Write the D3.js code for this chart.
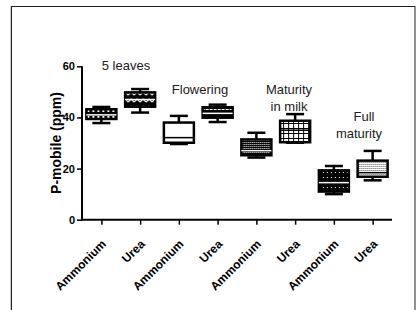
<!DOCTYPE html>
<html>
<head>
<meta charset="utf-8">
<script src="https://cdn.jsdelivr.net/npm/d3@7"></script>
<style>
  body { margin: 0; background: #fff; }
  svg { display: block; font-family: "Liberation Sans", Arial, sans-serif; }
</style>
</head>
<body>
<script>
// categories (fertilizer per growth stage)
var categories = ["Ammonium", "Urea", "Ammonium", "Urea", "Ammonium", "Urea", "Ammonium", "Urea"];
// box statistics (ppm)
var whiskerMin = [37.8, 41.9, 29.6, 38.2, 24.3, 30.1, 10.0, 15.4];
var quart1 = [39.4, 44.2, 30.1, 39.9, 25.2, 30.3, 11.0, 16.8];
var medians = [41.0, 47.0, 32.1, 41.6, 27.0, 35.0, 14.5, 18.4];
var quart3 = [43.2, 49.8, 38.0, 44.0, 31.4, 38.7, 19.3, 23.1];
var whiskerMax = [44.1, 51.1, 40.6, 45.0, 34.0, 41.3, 21.0, 26.9];
var fills = ["p1", "p2", "white", "p4", "p5", "p6", "p7", "p8"];
var yTicks = [0, 20, 40, 60];
// stage annotations
var stageLines = [["5 leaves"], ["Flowering"], ["Maturity", "in milk"], ["Full", "maturity"]];

var W = 417, H = 310;
var svg = d3.select("body").append("svg").attr("width", W).attr("height", H);

// frame
svg.append("line").attr("x1", 10.5).attr("x2", 10.5).attr("y1", 6).attr("y2", 310)
    .attr("stroke", "#ccc").attr("stroke-width", 1);
svg.append("rect").attr("x", 11.5).attr("y", 6.5).attr("width", 403.5).attr("height", 320)
    .attr("fill", "none").attr("stroke", "#222").attr("stroke-width", 1);

// patterns
var defs = svg.append("defs");
function pat(id, w, h, bg, draw) {
    var p = defs.append("pattern").attr("id", id).attr("patternUnits", "userSpaceOnUse")
        .attr("width", w).attr("height", h);
    p.append("rect").attr("width", w).attr("height", h).attr("fill", bg);
    draw(p);
}
pat("p1", 5, 6, "#000", function (p) {
    p.append("rect").attr("x", 1).attr("y", 2).attr("width", 2).attr("height", 2).attr("fill", "#fff");
});
pat("p2", 6, 7, "#000", function (p) {
    p.append("path").attr("d", "M0,4 L3,1 L6,4").attr("fill", "none").attr("stroke", "#fff").attr("stroke-width", 1.2);
});
pat("p4", 4, 4, "#000", function (p) {
    p.append("rect").attr("x", 0).attr("y", 1).attr("width", 3).attr("height", 1).attr("fill", "#fff");
});
pat("p5", 2, 2, "#000", function (p) {
    p.append("rect").attr("x", 0).attr("y", 0).attr("width", 1).attr("height", 1).attr("fill", "#fff");
});
pat("p6", 5, 5, "#fff", function (p) {
    p.append("rect").attr("x", 0).attr("y", 3).attr("width", 5).attr("height", 1).attr("fill", "#000");
    p.append("rect").attr("x", 3).attr("y", 0).attr("width", 1).attr("height", 5).attr("fill", "#000");
});
pat("p7", 4, 5, "#000", function (p) {
    p.append("rect").attr("x", 1).attr("y", 2).attr("width", 1).attr("height", 1).attr("fill", "#fff");
});
pat("p8", 2, 2, "#fff", function (p) {
    p.append("rect").attr("x", 0).attr("y", 0).attr("width", 1).attr("height", 1).attr("fill", "#555");
});

var x = d3.scalePoint().domain(d3.range(categories.length)).range([82, 392]).padding(0.5);
var y = d3.scaleLinear().domain([0, 60]).range([219.7, 66.3]);

// axes
var yAxis = svg.append("g").attr("transform", "translate(82,0)")
    .call(d3.axisLeft(y).tickValues(yTicks).tickSize(5).tickPadding(2));
yAxis.select(".domain").attr("stroke-width", 2).attr("d", "M0," + y(60) + "V" + (y(0) + 1));
yAxis.selectAll(".tick line").attr("stroke-width", 1.5);
yAxis.selectAll("text").attr("font-size", 11).attr("font-weight", "bold").attr("fill", "#000")
    .attr("font-family", "Liberation Sans, Arial, sans-serif");

var xAxis = svg.append("g").attr("transform", "translate(0," + y(0) + ")")
    .call(d3.axisBottom(x).tickSize(5).tickFormat(function (i) { return categories[i]; }));
xAxis.select(".domain").attr("stroke-width", 2).attr("d", "M81,0H392");
xAxis.selectAll(".tick line").attr("stroke-width", 1.5);
xAxis.selectAll("text")
    .attr("font-size", 12).attr("font-weight", "bold").attr("fill", "#000")
    .attr("font-family", "Liberation Sans, Arial, sans-serif")
    .attr("text-anchor", "end").attr("dy", null).attr("y", 0)
    .attr("transform", "translate(5,25) rotate(-45)");

// y label
svg.append("text").attr("transform", "translate(61," + y(30) + ") rotate(-90)")
    .attr("text-anchor", "middle").attr("font-size", 14).attr("font-weight", "bold")
    .text("P-mobile (ppm)");

// boxes
var boxW = 30, capW = 18;
var boxes = svg.append("g").selectAll("g").data(categories).join("g")
    .attr("transform", function (d, i) { return "translate(" + x(i) + ",0)"; });
boxes.append("line").attr("y1", function (d, i) { return y(whiskerMax[i]); })
    .attr("y2", function (d, i) { return y(whiskerMin[i]); })
    .attr("stroke", "#000").attr("stroke-width", 2.5);
boxes.append("line").attr("x1", -capW / 2).attr("x2", capW / 2)
    .attr("y1", function (d, i) { return y(whiskerMax[i]); })
    .attr("y2", function (d, i) { return y(whiskerMax[i]); })
    .attr("stroke", "#000").attr("stroke-width", 2.5);
boxes.append("line").attr("x1", -capW / 2).attr("x2", capW / 2)
    .attr("y1", function (d, i) { return y(whiskerMin[i]); })
    .attr("y2", function (d, i) { return y(whiskerMin[i]); })
    .attr("stroke", "#000").attr("stroke-width", 2.5);
boxes.append("rect").attr("x", -boxW / 2).attr("width", boxW)
    .attr("y", function (d, i) { return y(quart3[i]); })
    .attr("height", function (d, i) { return y(quart1[i]) - y(quart3[i]); })
    .attr("fill", function (d, i) { return fills[i] === "white" ? "#fff" : "url(#" + fills[i] + ")"; })
    .attr("stroke", "#000").attr("stroke-width", 2.5);
boxes.append("line").attr("x1", -boxW / 2).attr("x2", boxW / 2)
    .attr("y1", function (d, i) { return y(medians[i]); })
    .attr("y2", function (d, i) { return y(medians[i]); })
    .attr("stroke", function (d, i) { return fills[i] === "white" || fills[i] === "p6" || fills[i] === "p8" ? "#000" : "#fff"; })
    .attr("stroke-width", 1.5);

// stage annotations
var stageX = [126, 200, 289, 364];
var stageY = [70, 94, 94, 121];
stageLines.forEach(function (lines, k) {
    var t = svg.append("text").attr("font-size", 13).attr("text-anchor", "middle").attr("fill", "#222");
    lines.forEach(function (s, j) {
        t.append("tspan").attr("x", stageX[k] - (k === 3 && j === 1 ? 5 : 0))
            .attr("y", stageY[k] + j * 17).text(s);
    });
});
</script>
</body>
</html>
